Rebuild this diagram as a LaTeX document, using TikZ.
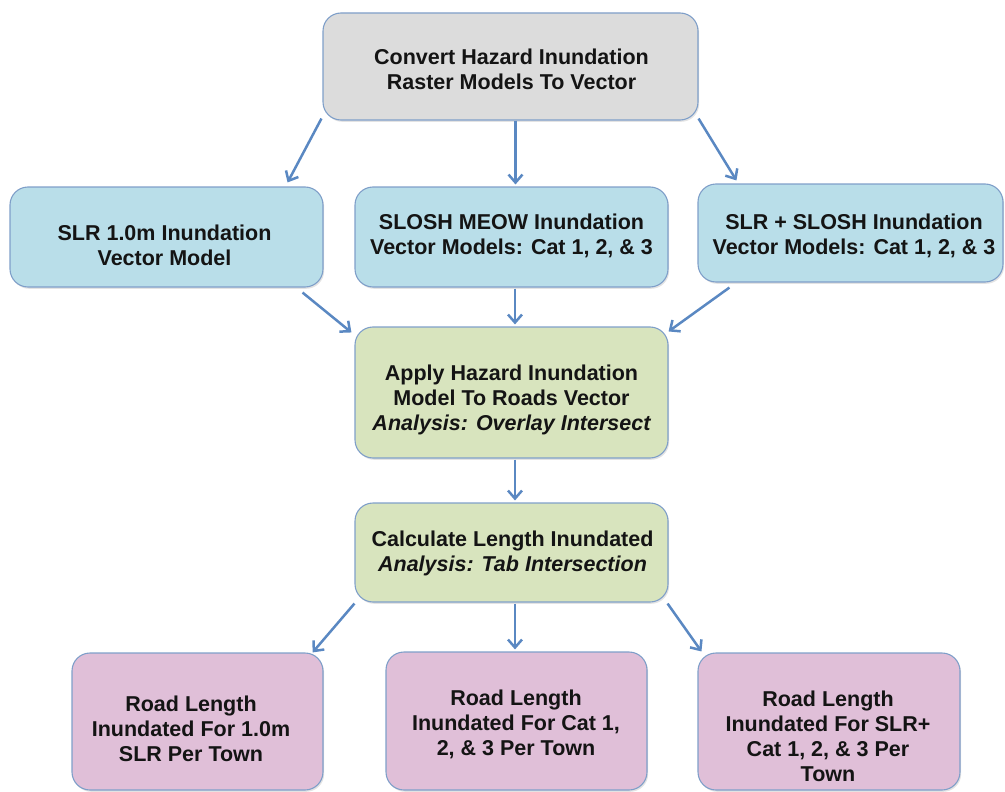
\documentclass[tikz,border=0pt]{standalone}
\usepackage{fontspec}
\setmainfont{Liberation Sans}
\usetikzlibrary{arrows.meta,calc,shadows}

\definecolor{greyfill}{HTML}{DCDCDC}
\definecolor{bluefill}{HTML}{B9DEE9}
\definecolor{greenfill}{HTML}{D8E4BE}
\definecolor{pinkfill}{HTML}{E0BFD8}
\definecolor{edgeblue}{HTML}{7F9FC9}
\definecolor{flowblue}{HTML}{5A88C2}

\begin{document}
\begin{tikzpicture}[x=1pt,y=-1pt,
  box/.style={draw=edgeblue, line width=1.1pt, rounded corners=18pt, inner sep=0pt,
    drop shadow={shadow xshift=1.2pt, shadow yshift=-1.8pt, opacity=0.22}},
  txt/.style={align=center, inner sep=0pt, text=black!92,
    font=\fontsize{21.5}{25}\selectfont\bfseries},
  arr/.style={draw=flowblue, line width=2.5pt,
    -{Straight Barb[length=8pt,width=14pt]}}]

\useasboundingbox (0,0) rectangle (1005,792);

% boxes
\node[box, fill=greyfill,  minimum width=375pt, minimum height=107pt] (top) at (510.5,66.5) {};
\node[box, fill=bluefill,  minimum width=313pt, minimum height=100pt] (b1)  at (166.5,237) {};
\node[box, fill=bluefill,  minimum width=313pt, minimum height=100pt] (b2)  at (511.5,237) {};
\node[box, fill=bluefill,  minimum width=305pt, minimum height=98pt]  (b3)  at (850.5,233) {};
\node[box, fill=greenfill, minimum width=313pt, minimum height=131pt] (g1)  at (511.5,392.5) {};
\node[box, fill=greenfill, minimum width=313pt, minimum height=99pt]  (g2)  at (511.5,552.5) {};
\node[box, fill=pinkfill,  minimum width=251pt, minimum height=137pt] (p1)  at (197.5,721.5) {};
\node[box, fill=pinkfill,  minimum width=261pt, minimum height=138pt] (p2)  at (516.5,721) {};
\node[box, fill=pinkfill,  minimum width=262pt, minimum height=137pt] (p3)  at (829,721.5) {};

% box texts
\node[txt] (top-t) at (511.5,69.5) {Convert Hazard Inundation\\Raster Models To Vector};
\node[txt] (b1-t)  at (164.5,245) {SLR 1.0m Inundation\\Vector Model};
\node[txt] (b2-t)  at (511.5,235.5) {SLOSH MEOW Inundation\\Vector Models: Cat 1, 2, \& 3};
\node[txt] (b3-t)  at (854,236) {SLR + SLOSH Inundation\\Vector Models: Cat 1, 2, \& 3};
\node[txt] (g1-t)  at (511.5,399.5) {Apply Hazard Inundation\\Model To Roads Vector\\\itshape Analysis: Overlay Intersect};
\node[txt] (g2-t)  at (512.5,553.5) {Calculate Length Inundated\\\itshape Analysis: Tab Intersection};
\node[txt] (p1-t)  at (191,728.5) {Road Length\\Inundated For 1.0m\\SLR Per Town};
\node[txt] (p2-t)  at (516,724.5) {Road Length\\Inundated For Cat 1,\\2, \& 3 Per Town};
\node[txt] (p3-t)  at (828,736) {Road Length\\Inundated For SLR+\\Cat 1, 2, \& 3 Per\\Town};

% connectors
\draw[arr] ($(top.south west)+(-1,-2)$) -- ($(b1.north east)+(-36,-4)$);
\draw[arr] ($(top.south)+(5,0)$)        -- ($(b2.north)+(4,-2)$);
\draw[arr] ($(top.south east)+(0,-2)$)  -- ($(b3.north west)+(39,-3)$);

\draw[arr] ($(b1.south east)+(-21,5)$)  -- ($(g1.north west)+(-3,6)$);
\draw[arr] ($(b2.south)+(3.5,1)$)       -- ($(g1.north)+(3.5,-2)$);
\draw[arr] ($(b3.south west)+(32,5)$)   -- ($(g1.north east)+(0,5)$);

\draw[arr] ($(g1.south)+(3.5,1)$)       -- ($(g2.north)+(3.5,-2)$);

\draw[arr] ($(g2.south west)+(0,1)$)    -- ($(p1.north east)+(-11,0)$);
\draw[arr] ($(g2.south)+(3.5,1)$)       -- ($(p2.north)+(-1.5,-2)$);
\draw[arr] ($(g2.south east)+(-1,1)$)   -- ($(p3.north west)+(4,-1)$);

\end{tikzpicture}
\end{document}
